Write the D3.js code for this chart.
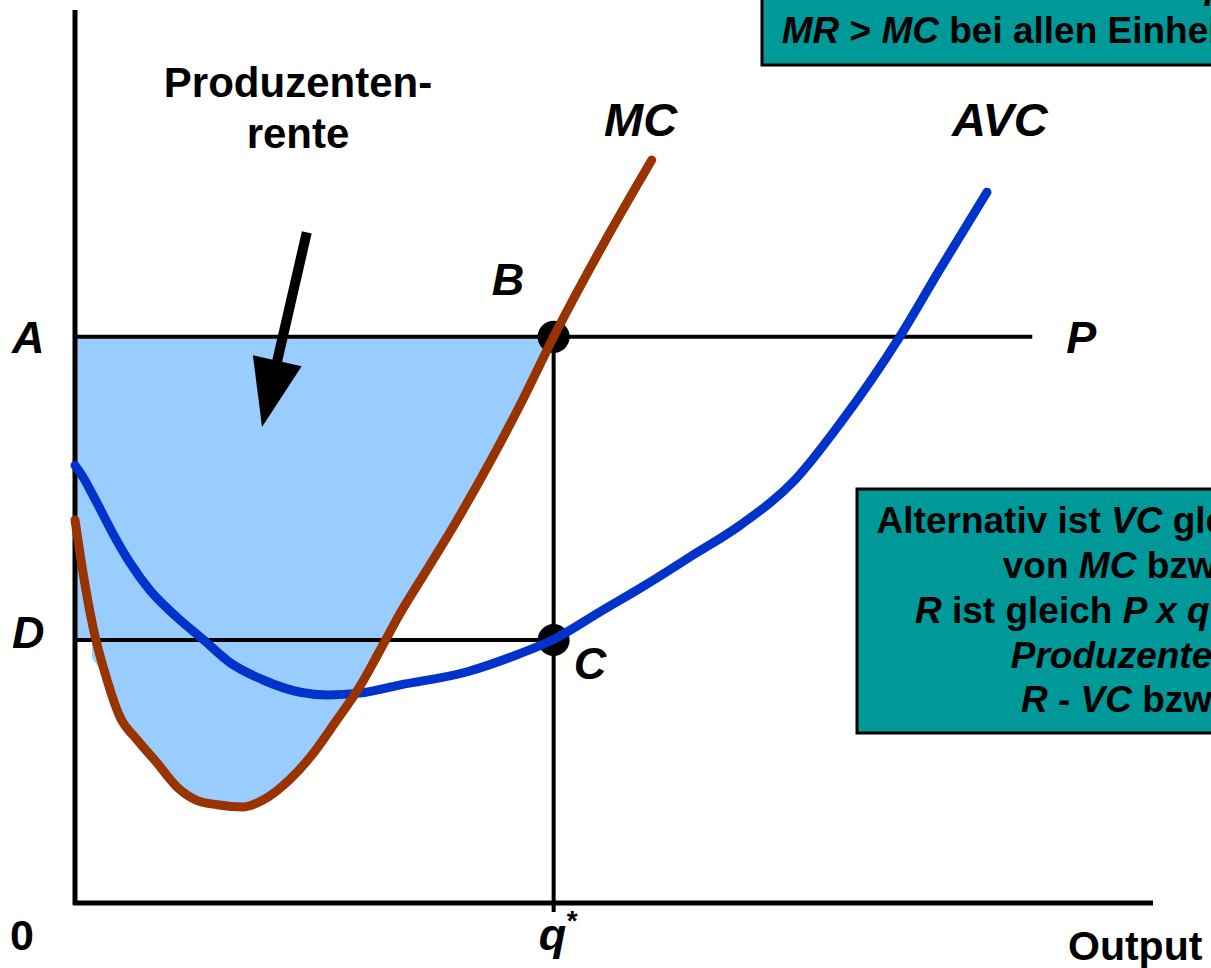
<!DOCTYPE html>
<html>
<head>
<meta charset="utf-8">
<script src="https://cdn.jsdelivr.net/npm/d3@7"></script>
<style>
  html, body { margin: 0; padding: 0; background: #fff; overflow: hidden; }
  svg { display: block; }
  text { font-family: "Liberation Sans", Arial, Helvetica, sans-serif; font-weight: bold; fill: #000; }
</style>
</head>
<body>
<script>
// ---- Data (chart units: output 0..100, price 0..100) ----
const priceP = 63.4;      // A / P level
const priceD = 29.45;     // D / C level
const qStar = 44.4;       // q*
const pLineEnd = 88.8;    // end of the price line P

const mcQ = [0, 0.74, 1.67, 2.97, 4.17, 5.75, 7.6, 9.46, 11.3, 13.2, 15.6, 17.4, 19.9, 21.8, 24.3, 26.4, 28.3, 30.1, 32.9, 35.7, 38.5, 41.3, 44.4, 48.7, 53.5];
const mcC = [42.9, 37.0, 30.9, 24.97, 20.83, 18.3, 15.7, 13.0, 11.5, 11.0, 10.75, 11.5, 13.8, 16.3, 20.5, 24.2, 28.3, 32.3, 37.8, 43.4, 49.4, 55.8, 63.4, 73.1, 83.2];

const avcQ = [0, 0.74, 2.04, 3.5, 5.1, 6.96, 9.46, 11.9, 14.4, 17.4, 20.9, 23.4, 26.4, 30.1, 36.4, 41.0, 44.3, 48.7, 52.9, 57.05, 61.7, 66.8, 71.0, 76.5, 80.2, 84.6];
const avcC = [49.0, 47.7, 44.8, 41.4, 38.1, 35.0, 32.0, 29.5, 26.9, 25.0, 23.6, 23.3, 23.5, 24.4, 25.9, 27.8, 29.45, 32.6, 35.6, 38.75, 42.3, 47.4, 53.75, 63.4, 70.9, 79.6];

// left edge of the shaded producer-surplus area (below the D level)
const surplusLeftQ = [1.58, 1.58, 0];
const surplusLeftC = [27.5, 29.45, 29.45];

// arrow (start -> tip) in chart units
const arrowQ = [21.5, 17.35];
const arrowC = [75.1, 53.3];

// ---- Setup ----
const W = 1211, H = 968;
const svg = d3.select("body").append("svg").attr("width", W).attr("height", H);
const x = d3.scaleLinear().domain([0, 100]).range([75, 1153]);
const y = d3.scaleLinear().domain([0, 100]).range([903, 10]);

const mc = mcQ.map((q, i) => [q, mcC[i]]);
const avc = avcQ.map((q, i) => [q, avcC[i]]);

const colMC = "#993300", colAVC = "#0033CC", colFill = "#99CCFF", colBox = "#009999";

// ---- Producer surplus fill ----
const lowerEdge = mc.filter(d => d[0] >= 2.9 && d[0] <= qStar).reverse();
const poly = [[0, priceP], [qStar, priceP]]
  .concat(lowerEdge)
  .concat(surplusLeftQ.map((q, i) => [q, surplusLeftC[i]]));
svg.append("path")
  .attr("d", d3.line().x(d => x(d[0])).y(d => y(d[1]))(poly) + "Z")
  .attr("fill", colFill);

// ---- Axes ----
svg.append("line").attr("x1", x(0)).attr("x2", x(0)).attr("y1", y(100)).attr("y2", y(0) + 2)
  .attr("stroke", "#000").attr("stroke-width", 5);
svg.append("line").attr("x1", x(0) - 2).attr("x2", x(100)).attr("y1", y(0)).attr("y2", y(0))
  .attr("stroke", "#000").attr("stroke-width", 5);

// ---- Guide lines ----
svg.append("line").attr("x1", x(0)).attr("x2", x(pLineEnd)).attr("y1", y(priceP)).attr("y2", y(priceP))
  .attr("stroke", "#000").attr("stroke-width", 4);
svg.append("line").attr("x1", x(0)).attr("x2", x(qStar)).attr("y1", y(priceD)).attr("y2", y(priceD))
  .attr("stroke", "#000").attr("stroke-width", 4);

// ---- Points B and C ----
[[qStar, priceP], [qStar, priceD]].forEach(p => {
  svg.append("circle").attr("cx", x(p[0])).attr("cy", y(p[1])).attr("r", 16).attr("fill", "#000");
});
svg.append("line").attr("x1", x(qStar)).attr("x2", x(qStar)).attr("y1", y(priceP)).attr("y2", y(-1))
  .attr("stroke", "#000").attr("stroke-width", 4);

// ---- Curves ----
const curveLine = d3.line().x(d => x(d[0])).y(d => y(d[1])).curve(d3.curveMonotoneX);
svg.append("path").attr("d", curveLine(avc)).attr("fill", "none")
  .attr("stroke", colAVC).attr("stroke-width", 9).attr("stroke-linecap", "round").attr("stroke-linejoin", "round");
svg.append("path").attr("d", curveLine(mc)).attr("fill", "none")
  .attr("stroke", colMC).attr("stroke-width", 9).attr("stroke-linecap", "round").attr("stroke-linejoin", "round");

// ---- Arrow ----
{
  const x0 = x(arrowQ[0]), y0 = y(arrowC[0]), x1 = x(arrowQ[1]), y1 = y(arrowC[1]);
  const dx = x1 - x0, dy = y1 - y0, len = Math.hypot(dx, dy);
  const ux = dx / len, uy = dy / len, nx = -uy, ny = ux;
  const headLen = 68, headHalf = 25;
  const bx = x1 - ux * headLen, by = y1 - uy * headLen;
  svg.append("line").attr("x1", x0).attr("y1", y0).attr("x2", bx + ux * 4).attr("y2", by + uy * 4)
    .attr("stroke", "#000").attr("stroke-width", 10);
  svg.append("path")
    .attr("d", `M${x1},${y1}L${bx + nx * headHalf},${by + ny * headHalf}L${bx - nx * headHalf},${by - ny * headHalf}Z`)
    .attr("fill", "#000");
}

// ---- Labels ----
function label(txt, px, py, size, italic, anchor) {
  return svg.append("text").attr("x", px).attr("y", py).attr("font-size", size)
    .attr("font-style", italic ? "italic" : "normal").attr("text-anchor", anchor || "start").text(txt);
}
label("A", x(0) - 63, y(priceP) + 16, 45, true);
label("D", x(0) - 63, y(priceD) + 8, 45, true);
label("B", x(qStar) - 62, y(priceP) - 42, 45, true);
label("C", x(qStar) + 20, y(priceD) + 39, 45, true);
label("P", x(pLineEnd) + 34, y(priceP) + 16, 45, true);
label("MC", 604, 136, 47, true);
label("AVC", 952, 136, 47, true);
label("Produzenten-", 298, 97, 42, false, "middle");
label("rente", 298, 148, 42, false, "middle");
label("0", 10, 950, 43, false);
label("q", x(qStar) - 15, 950, 45, true);
label("*", x(qStar) + 13, 930, 28, false);
label("Output", 1068, 960, 41, false);

// ---- Text boxes ----
function richLine(cx, by, parts, size) {
  const t = svg.append("text").attr("x", cx).attr("y", by).attr("font-size", size).attr("text-anchor", "middle");
  parts.forEach(p => t.append("tspan").attr("font-style", p[1] ? "italic" : "normal").text(p[0]));
  return t;
}
svg.append("rect").attr("x", 762).attr("y", -10).attr("width", 620).attr("height", 75)
  .attr("fill", colBox).attr("stroke", "#000").attr("stroke-width", 3);
richLine(1060, -2, [["Zwischen 0 und ", false], ["q", true]], 37);
richLine(1033, 43, [["MR", true], [" > ", false], ["MC", true], [" bei allen Einheiten.", false]], 37);

svg.append("rect").attr("x", 857).attr("y", 489).attr("width", 700).attr("height", 244)
  .attr("fill", colBox).attr("stroke", "#000").attr("stroke-width", 3);
richLine(1184, 533, [["Alternativ ist ", false], ["VC", true], [" gleich der Summe", false]], 37);
richLine(1184, 578, [["von ", false], ["MC", true], [" bzw. ODCq*.", false]], 37);
richLine(1184, 623, [["R", true], [" ist gleich ", false], ["P x q*", true], [" bzw. OABq*.", false]], 37);
richLine(1184, 668, [["Produzentenrente =", true]], 37);
richLine(1184, 712, [["R - VC", true], [" bzw. ABCD.", false]], 37);
</script>
</body>
</html>
